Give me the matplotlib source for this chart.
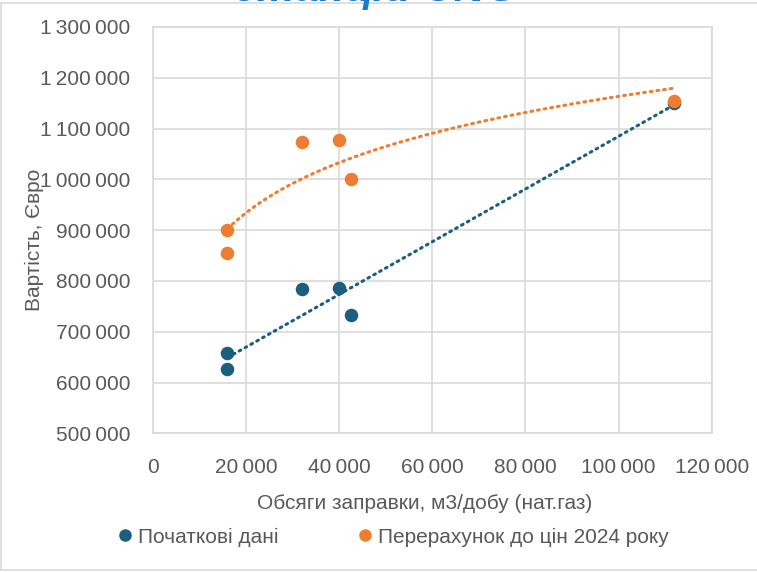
import numpy as np
import matplotlib
matplotlib.use("Agg")
import matplotlib.pyplot as plt
from matplotlib.ticker import FuncFormatter, MultipleLocator
from matplotlib.lines import Line2D

plt.rcParams['font.family'] = ['Liberation Sans', 'DejaVu Sans']

# Volumes of refuelling, m3/day (natural gas)
volume = [16000, 16000, 32000, 40000, 42500, 112000]
# Station cost, EUR: original figures and recalculated to 2024 prices
cost_initial = [658000, 626000, 784000, 787000, 732000, 1150000]
cost_2024 = [901000, 855000, 1073000, 1077000, 1000500, 1154000]

series_names = ["Початкові дані", "Перерахунок до цін 2024 року"]
title_text = "станцій CNG"
x_label = "Обсяги заправки, м3/добу (нат.газ)"
y_label = "Вартість, Євро"

BLUE = "#1B5E80"
ORANGE = "#ED7D31"
GRID = "#D9D9D9"
TEXT = "#595959"

W, H = 757, 572
fig = plt.figure(figsize=(W / 100, H / 100), dpi=100)
ax = fig.add_axes([153 / W, 1 - 433.3 / H, (711.7 - 153) / W, (433.3 - 27) / H])

x = np.array(volume, dtype=float)
y1 = np.array(cost_initial, dtype=float)
y2 = np.array(cost_2024, dtype=float)

# trend lines: linear for the original data, logarithmic for 2024 prices
xs = np.linspace(x.min(), x.max(), 200)
k, b = np.polyfit(x, y1, 1)
a, c = np.polyfit(np.log(x), y2, 1)

dots = (0, (0.6, 1.6))
ax.plot(xs, k * xs + b, color=BLUE, lw=2.2, ls=dots, dash_capstyle='round', zorder=3)
ax.plot(xs, a * np.log(xs) + c, color=ORANGE, lw=2.2, ls=dots, dash_capstyle='round', zorder=3)

ax.scatter(x, y1, s=95, color=BLUE, zorder=4, linewidths=0)
ax.scatter(x, y2, s=95, color=ORANGE, zorder=5, linewidths=0)

ax.set_xlim(0, 120000)
ax.set_ylim(500000, 1300000)
ax.xaxis.set_major_locator(MultipleLocator(20000))
ax.yaxis.set_major_locator(MultipleLocator(100000))

fmt = FuncFormatter(lambda v, p: f"{int(round(v)):,}".replace(",", "\u2009"))
ax.xaxis.set_major_formatter(fmt)
ax.yaxis.set_major_formatter(fmt)

ax.grid(True, color=GRID, lw=1.2)
ax.set_axisbelow(True)
for s in ax.spines.values():
    s.set_color(GRID)
    s.set_linewidth(1.2)
ax.tick_params(length=0, labelsize=15, colors=TEXT)
ax.tick_params(axis='x', pad=18)
ax.tick_params(axis='y', pad=16.5)

ax.set_xlabel(x_label, fontsize=15, color=TEXT)
ax.xaxis.set_label_coords((425 - 153) / 558.7, -(494 - 433.3) / 406.3)
ax.set_ylabel(y_label, fontsize=15, color=TEXT)
ax.yaxis.set_label_coords((44 - 153) / 558.7, (433.3 - 240) / 406.3)

fig.text(376 / W, 1 - 1.5 / H, title_text, fontsize=31, fontweight='bold', fontstyle='italic',
         color="#1A7CC8", ha='center', va='baseline')

handles = [Line2D([], [], ls='none', marker='o', ms=8, color=BLUE),
           Line2D([], [], ls='none', marker='o', ms=8, color=ORANGE)]
fig.legend(handles, series_names, loc='center', bbox_to_anchor=(0.5176, 1 - 537 / H), ncol=2,
           frameon=False, fontsize=15, labelcolor=TEXT, handletextpad=0.1, columnspacing=3.68,
           handlelength=1.0)

# outer chart frame
frame = dict(color=GRID, lw=1.2)
fig.add_artist(Line2D([1 / W, 1 / W], [1 - 2.5 / H, 1 - 570 / H], **frame))
fig.add_artist(Line2D([1 / W, 1], [1 - 2.5 / H, 1 - 2.5 / H], **frame))
fig.add_artist(Line2D([1 / W, 1], [1 - 570 / H, 1 - 570 / H], **frame))

fig.savefig("out.png", dpi=100)
